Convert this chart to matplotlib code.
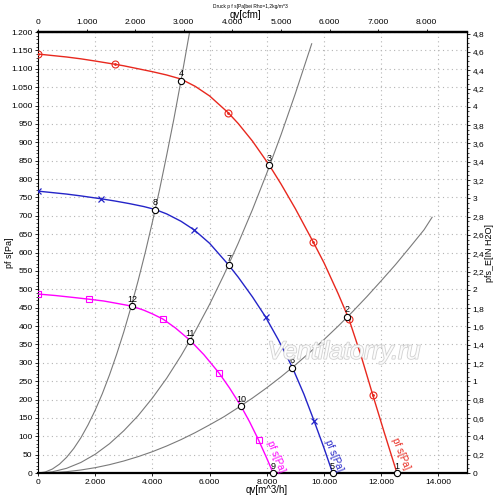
import matplotlib
matplotlib.use("Agg")
import matplotlib.pyplot as plt
import matplotlib.patheffects as pe
from matplotlib.ticker import MultipleLocator, FuncFormatter

plt.rcParams["font.family"] = ["Liberation Sans", "DejaVu Sans"]

# fan curves, q in m^3/h, p in Pa
red_q = [0, 500, 1000, 1500, 2000, 2707, 3000, 3500, 4000, 4500, 5000, 5500,
         6000, 6655, 7000, 7500, 8084, 8500, 9000, 9627, 10000, 10500, 10871,
         11300, 11707, 12100, 12550]
red_p = [1140, 1136, 1132, 1127, 1121, 1112, 1108, 1100, 1092, 1083, 1072, 1052,
         1026, 980, 951, 903, 838, 786, 719, 628, 572, 487, 419,
         318, 212, 112, 0]
red_mq = [0, 2707, 6655, 9627, 10871, 11707]
red_mp = [1140, 1112, 980, 628, 419, 212]

blue_q = [0, 500, 1000, 1500, 2219, 2700, 3200, 3700, 4100, 4500, 5000, 5470,
          6000, 6666, 7000, 7500, 7955, 8400, 8896, 9300, 9652, 10000, 10300]
blue_p = [767, 763, 759, 754, 746, 740, 733, 725, 717, 705, 685, 661,
          625, 566, 533, 479, 425, 363, 287, 214, 142, 68, 0]
blue_mq = [0, 2219, 5470, 7955, 9652]
blue_mp = [767, 746, 661, 425, 142]

mag_q = [0, 600, 1200, 1777, 2300, 2800, 3286, 3700, 4000, 4366, 4800, 5331,
         5800, 6341, 6700, 7097, 7400, 7711, 8000, 8220]
mag_p = [487, 483, 478, 473, 468, 461, 454, 443, 433, 419, 395, 360,
         322, 271, 231, 182, 139, 90, 40, 0]
mag_mq = [0, 1777, 4366, 6341, 7711]
mag_mp = [487, 473, 419, 271, 90]

# system curves (gray)
sysA_q = [0, 250, 500, 750, 1000, 1250, 1500, 1750, 2000, 2250, 2500, 2750,
          3000, 3250, 3500, 3750, 4000, 4250, 4500, 4750, 5000, 5330]
sysA_p = [0, 2.7, 10.7, 24, 42.7, 66.7, 96, 131, 171, 216, 267, 323,
          384, 451, 523, 600, 683, 771, 865, 963, 1068, 1213]
sysB_q = [0, 500, 1000, 1500, 2000, 2500, 3000, 3500, 4000, 4500, 5000,
          5500, 6000, 6500, 7000, 7500, 8000, 8500, 9000, 9570]
sysB_p = [0, 3.2, 12.8, 28.7, 51, 79.7, 115, 156, 204, 258, 319,
          386, 459, 539, 625, 717, 816, 921, 1033, 1168]
sysC_q = [0, 500, 1000, 1500, 2000, 2500, 3000, 3500, 4000, 4500, 5000, 5500,
          6000, 6500, 7000, 7500, 8000, 8500, 9000, 9500, 10000, 10500, 11000,
          11500, 12000, 12500, 13000, 13500, 13780]
sysC_p = [0, 0.9, 3.6, 8.2, 14.5, 22.7, 32.7, 44.5, 58, 73.5, 90.8, 110,
          131, 153, 178, 204, 232, 262, 294, 328, 363, 400, 439,
          480, 523, 567, 614, 662, 696]

# operating points
pt_no = ["1", "2", "3", "4", "5", "6", "7", "8", "9", "10", "11", "12"]
pt_q = [12550, 10812, 8084, 5007, 10300, 8896, 6666, 4100, 8220, 7097, 5331, 3286]
pt_p = [0, 425, 838, 1068, 0, 287, 566, 717, 0, 182, 360, 454]

RED = "#e8281e"
BLUE = "#2424c8"
MAG = "#ff00ff"
GRAY = "#7a7a7a"

fig = plt.figure(figsize=(5, 5.04), dpi=100)
ax = fig.add_axes([0.076, 0.0615, 0.858, 0.875])

ax.set_xlim(0, 15000)
ax.set_ylim(0, 1200)

for q, p in [(sysA_q, sysA_p), (sysB_q, sysB_p), (sysC_q, sysC_p)]:
    ax.plot(q, p, color=GRAY, lw=0.8, zorder=2)

ax.plot(red_q, red_p, color=RED, lw=1.0, zorder=3)
ax.plot(red_mq, red_mp, ls="none", marker="o", ms=5, mfc="none", mec=RED, mew=0.8, zorder=4)
ax.plot(red_mq, red_mp, ls="none", marker=".", ms=2, color=RED, zorder=4)
ax.plot(blue_q, blue_p, color=BLUE, lw=1.0, zorder=3)
ax.plot(blue_mq, blue_mp, ls="none", marker="x", ms=5, color=BLUE, mew=0.9, zorder=4)
ax.plot(mag_q, mag_p, color=MAG, lw=1.0, zorder=3)
ax.plot(mag_mq, mag_mp, ls="none", marker="s", ms=4.5, mfc="none", mec=MAG, mew=0.8, zorder=4)

ax.plot(pt_q, pt_p, ls="none", marker="o", ms=4.5, mfc="white", mec="black", mew=0.8,
        zorder=5, clip_on=False)
for n, q, p in zip(pt_no, pt_q, pt_p):
    ax.annotate(n, (q, p), xytext=(0, 5), textcoords="offset points",
                ha="center", va="center", fontsize=6.5, zorder=6)

# curve labels
for q, p, c in [(12680, 52, RED), (10340, 48, BLUE), (8320, 45, MAG)]:
    ax.text(q, p, "pf s[Pa]", color=c, fontsize=7, rotation=-68,
            ha="center", va="center", rotation_mode="anchor", zorder=6)

# grid
ax.xaxis.set_major_locator(MultipleLocator(2000))
ax.yaxis.set_major_locator(MultipleLocator(50))
ax.yaxis.set_minor_locator(MultipleLocator(10))
ax.grid(True, which="major", color="#b4b4b4", ls=(0, (1, 3)), lw=0.8, zorder=0)

thou = FuncFormatter(lambda v, pos: f"{int(round(v)):,}".replace(",", "."))
ax.xaxis.set_major_formatter(thou)
ax.yaxis.set_major_formatter(thou)
ax.tick_params(axis="both", labelsize=6, length=2.5, width=0.6, pad=1.5)
ax.tick_params(axis="y", which="minor", length=1.5, width=0.5)

for s in ["top", "bottom"]:
    ax.spines[s].set_linewidth(1.6)
for s in ["left", "right"]:
    ax.spines[s].set_linewidth(0.8)

# top axis in cfm
top = ax.secondary_xaxis("top", functions=(lambda x: x / 1.699, lambda x: x * 1.699))
top.xaxis.set_major_locator(MultipleLocator(1000))
top.xaxis.set_major_formatter(thou)
top.tick_params(labelsize=6, length=2.5, width=0.6, pad=1.5)
top.spines["top"].set_linewidth(1.6)

# right axis in inch H2O
right = ax.secondary_yaxis("right", functions=(lambda p: p / 249.089, lambda i: i * 249.089))
right.yaxis.set_major_locator(MultipleLocator(0.2))
right.yaxis.set_minor_locator(MultipleLocator(0.05))
right.yaxis.set_major_formatter(FuncFormatter(lambda v, pos: f"{v:.1f}".rstrip("0").rstrip(".").replace(".", ",")))
right.tick_params(labelsize=6, length=2.5, width=0.6, pad=1.5)
right.tick_params(which="minor", length=1.5, width=0.5)

fig.text(0.534, 0.027, "qv[m^3/h]", fontsize=7, ha="center", va="center")
fig.text(0.49, 0.970, "qv[cfm]", fontsize=7, ha="center", va="center")
fig.text(0.018, 0.498, "pf s[Pa]", fontsize=6.5, rotation=90, ha="center", va="center")
fig.text(0.978, 0.498, "pfs_E[IN H2O]", fontsize=6.5, rotation=90, ha="center", va="center")
fig.text(0.5, 0.988, "Druck p f s[Pa]bei Rho=1,2kg/m^3", fontsize=3.5, ha="center", va="center")

ax.text(10700, 330, "Ventilatorry.ru", fontsize=18, style="italic", color="white",
        ha="center", va="center", alpha=0.9, zorder=7,
        path_effects=[pe.withStroke(linewidth=1.2, foreground="#cccccc")])

fig.savefig("out.png", dpi=100)
